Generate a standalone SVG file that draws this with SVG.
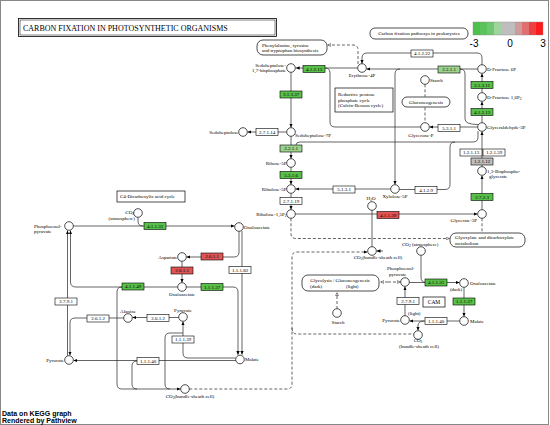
<svg xmlns="http://www.w3.org/2000/svg" width="550" height="425" viewBox="0 0 550 425">
<defs>
<marker id="ar" viewBox="0 0 6 6" refX="6" refY="3" markerUnits="userSpaceOnUse" markerWidth="3.8" markerHeight="3.8" orient="auto"><path d="M0,0.3 L6,3 L0,5.7z" fill="#000"/></marker>
<marker id="ao" viewBox="0 0 6 6" refX="6" refY="3" markerUnits="userSpaceOnUse" markerWidth="3.6" markerHeight="3.6" orient="auto"><path d="M0.6,0.6 L5.4,3 L0.6,5.4z" fill="#fff" stroke="#000" stroke-width="0.7"/></marker>
</defs>
<style>
.cp{fill:#fff;stroke:#000;stroke-width:0.7}
.ez{stroke:#000;stroke-width:0.6}
.w{fill:#fff}
.g{fill:#58bf48}
.lg{fill:#9ad38e}
.r{fill:#e05454}
.gy{fill:#bebebe}
.t{font-family:"Liberation Serif","Times New Roman",serif;font-size:5px;fill:#000}
.m{text-anchor:middle}
.e{text-anchor:end}
.ln{fill:none;stroke:#222;stroke-width:0.7}
.ds{stroke-dasharray:3 2}
.mp{fill:#fff;stroke:#000;stroke-width:0.7}
.s{font-family:"Liberation Sans",Arial,sans-serif}
</style>
<rect width="550" height="425" fill="#fff"/>
<rect x="0.5" y="0.5" width="548" height="424" fill="none" stroke="#888" stroke-width="1"/>

<g id="title">
<rect x="18.5" y="18.5" width="258" height="18" fill="#fff" stroke="#000" stroke-width="0.8"/>
<rect x="20" y="20" width="255" height="15" fill="none" stroke="#000" stroke-width="0.5"/>
<text class="t" x="23" y="30.5" style="font-size:8px">CARBON FIXATION IN PHOTOSYNTHETIC ORGANISMS</text>
</g>

<g id="legend">
<rect x="473" y="22" width="7" height="13" fill="#4cc24c"/>
<rect x="480" y="22" width="7" height="13" fill="#5cc25c"/>
<rect x="487" y="22" width="7" height="13" fill="#6fc86f"/>
<rect x="494" y="22" width="7" height="13" fill="#9fd49f"/>
<rect x="501" y="22" width="7" height="13" fill="#bebebe"/>
<rect x="508" y="22" width="7" height="13" fill="#bebebe"/>
<rect x="515" y="22" width="7" height="13" fill="#d09a9a"/>
<rect x="522" y="22" width="7" height="13" fill="#e07070"/>
<rect x="529" y="22" width="7" height="13" fill="#ee4040"/>
<rect x="536" y="22" width="7" height="13" fill="#ff1a1a"/>
<rect x="473" y="22" width="70" height="13" fill="none" stroke="#888" stroke-width="0.4"/>
<text class="s m" x="474" y="47" font-size="10">-3</text>
<text class="s m" x="510" y="47" font-size="10">0</text>
<text class="s m" x="543" y="47" font-size="10">3</text>
</g>

<g id="footer" class="s" font-size="7" font-weight="bold">
<text x="2" y="416">Data on KEGG graph</text>
<text x="2" y="423">Rendered by Pathview</text>
</g>

<g id="connectors">
<path class="ln" d="M357.7,68 H295.8" marker-end="url(#ar)"/>
<path class="ln" d="M420.7,127 H335 Q330,127 330,122 V73 Q330,68 325,68"/>
<path class="ln" d="M291,72.3 V127.5" marker-end="url(#ar)"/>
<path class="ln" d="M286.7,132 H247.6" marker-end="url(#ar)"/>
<path class="ln" d="M291,136.3 V158.5" marker-end="url(#ar)"/>
<path class="ln" d="M478,131 V137 Q478,142 473,142 H300 Q296,142 296,145"/>
<path class="ln" d="M400,69 Q395,69 395,74 V184.5" marker-end="url(#ar)"/>
<path class="ln" d="M291,167.3 V184.5" marker-end="url(#ar)"/>
<path class="ln" d="M390.7,189 H295.6" marker-end="url(#ar)"/>
<path class="ln" d="M291,193.3 V209.5" marker-end="url(#ar)"/>
<path class="ln" d="M295.3,214 H477.5" marker-end="url(#ar)"/>
<path class="ln" d="M372,210.3 V246.7"/>
<path class="ln" d="M482,209.7 V175.6" marker-end="url(#ar)"/>
<path class="ln" d="M482,166.7 V131.6" marker-end="url(#ar)"/>
<path class="ln" d="M482,92.7 V73.6" marker-end="url(#ar)"/>
<path class="ln" d="M482,122.7 V101.6" marker-end="url(#ar)"/>
<path class="ln" d="M477.7,127 H429.6" marker-end="url(#ar)"/>
<path class="ln" d="M477.7,69 H366.6" marker-end="url(#ar)"/>
<path class="ln" d="M478,124.5 Q465,124.5 465,119 V74 Q465,69 460,69"/>
<path class="ln" d="M482,64.7 V58 Q482,53 477,53 H367 Q362,53 362,58 V63.5" marker-end="url(#ar)"/>
<path class="ln ds" d="M358,64 V50 Q358,45 353,45 H327.5" marker-end="url(#ao)"/>
<path class="ln ds" d="M425,84.3 V96.5"/>
<path class="ln ds" d="M425,107.5 V122.7"/>
<path class="ln" d="M399.3,189.5 H445 Q450,189.5 450,184.5 V147 Q450,142 455,142"/>
<path class="ln ds" d="M291,218.3 V233.5 Q291,238.5 296,238.5 H449.5" marker-end="url(#ao)"/>
<path class="ln ds" d="M482,218.3 V233"/>
<path class="ln ds" d="M189.3,389 H287 Q292,389 292,384 V257 Q292,252 297,252 H367.3" marker-end="url(#ar)"/>
<path class="ln" d="M383,251 H376.7" marker-end="url(#ar)"/>
<path class="ln ds" d="M292,328 Q292,334 297,334 H413.7"/>
<path class="ln ds" d="M388,282 H380.5" marker-end="url(#ao)"/>
<path class="ln ds" d="M388,282 H400.6" marker-end="url(#ao)"/>
<path class="ln ds" d="M337,296 V292.3" marker-end="url(#ao)"/>
<path class="ln ds" d="M337,296 V308.7"/>
<path class="ln" d="M421,255.3 V277 Q421,282.5 426,282.5"/>
<path class="ln" d="M409.3,282.5 H459.5" marker-end="url(#ar)"/>
<path class="ln" d="M464,287.3 V316.5" marker-end="url(#ar)"/>
<path class="ln" d="M459.7,321 H409.6" marker-end="url(#ar)"/>
<path class="ln" d="M424,321 Q418,321 418,326 V330.5" marker-end="url(#ar)"/>
<path class="ln" d="M405,315.7 V286.6" marker-end="url(#ar)"/>
<path class="ln" d="M138,217.3 V221 Q138,226 143,226"/>
<path class="ln" d="M73.3,226 H234.5" marker-end="url(#ar)"/>
<path class="ln" d="M239,231.3 V252 Q239,257 234,257 H186.6" marker-end="url(#ar)"/>
<path class="ln" d="M242,231 V354.6" marker-end="url(#ar)"/>
<path class="ln" d="M182,261.3 V282.5" marker-end="url(#ar)"/>
<path class="ln" d="M186.3,287 H233 Q238,287 238,292 V354.8" marker-end="url(#ar)"/>
<path class="ln" d="M177.7,287 H76 Q70.5,287 70.5,282 V230.6" marker-end="url(#ar)"/>
<path class="ln" d="M67.5,355.7 V230.6" marker-end="url(#ar)"/>
<path class="ln" d="M178.7,317.5 H132.6" marker-end="url(#ar)"/>
<path class="ln" d="M123.7,318 H75 Q70,318 70,323 V355.3" marker-end="url(#ar)"/>
<path class="ln" d="M235.7,358 H188 Q183,358 183,353 V321.6" marker-end="url(#ar)"/>
<path class="ln" d="M183,333 H170 Q165,333 165,338 V384 Q165,389 170,389"/>
<path class="ln" d="M235.7,360.5 H73.6" marker-end="url(#ar)"/>
<path class="ln" d="M137,361 Q132,361 132,366 V384 Q132,389 137,389"/>
<path class="ln" d="M122,287 Q117,287 117,292 V384 Q117,389 122,389 H180.6" marker-end="url(#ar)"/>
</g>

<g id="map_phe"><rect class="mp" x="257" y="40" width="70" height="15" rx="6"/><text class="t" x="262" y="46.5">Phenylalanine, tyrosine</text><text class="t" x="262" y="52">and tryptophan biosynthesis</text></g>
<g id="map_calvin"><rect class="mp" x="335" y="88" width="58" height="24"/><text class="t" x="338" y="96">Reductive pentose</text><text class="t" x="338" y="101.5">phosphate cycle</text><text class="t" x="338" y="107">(Calvin-Benson cycle)</text></g>
<g id="map_prok"><rect class="mp" x="370" y="28" width="98" height="11" rx="5"/><text class="t m" x="419" y="35.3">Carbon fixation pathways in prokaryotes</text></g>
<g id="map_gluco"><rect class="mp" x="402" y="97" width="48" height="10" rx="5"/><text class="t m" x="426" y="103.8">Gluconeogenesis</text></g>
<g id="map_glyox"><rect class="mp" x="450" y="233" width="75" height="14" rx="6"/><text class="t" x="455" y="239">Glyoxylate and dicarboxylate</text><text class="t" x="455" y="244.5">metabolism</text></g>
<g id="map_glyco"><rect class="mp" x="302" y="275" width="77" height="16" rx="6"/><text class="t m" x="340" y="281.8">Glycolysis / Gluconeogenesis</text><text class="t" x="310" y="288">(dark)</text><text class="t" x="346" y="288">(light)</text></g>
<g id="map_c4"><rect class="mp" x="117" y="191" width="68" height="11"/><text class="t" x="120" y="198.3">C4-Dicarboxylic acid cycle</text></g>
<g id="map_cam"><rect class="mp" x="423" y="297" width="22" height="10"/><text class="t m" x="434" y="303.8" style="font-size:5.5px">CAM</text></g>

<g id="cpd_s17bp"><circle class="cp" cx="291" cy="68" r="4.3"/><text class="t e" x="286" y="66.5">Sedoheptulose-</text><text class="t e" x="286" y="72">1,7-bisphosphate</text></g>
<g id="cpd_e4p"><circle class="cp" cx="362" cy="68" r="4.3"/><text class="t m" x="362" y="77">Erythrose-4P</text></g>
<g id="cpd_f6p"><circle class="cp" cx="482" cy="69" r="4.3"/><text class="t" x="487" y="71">D-Fructose 6P</text></g>
<g id="cpd_starch1"><circle class="cp" cx="425" cy="80" r="4.3"/><text class="t" x="430" y="82">Starch</text></g>
<g id="cpd_f16p"><circle class="cp" cx="482" cy="97" r="4.3"/><text class="t" x="487" y="99">D-Fructose 1,6P<tspan font-size="3.5" dy="1">2</tspan></text></g>
<g id="cpd_gap"><circle class="cp" cx="482" cy="127" r="4.3"/><text class="t" x="487" y="129">Glyceraldehyde-3P</text></g>
<g id="cpd_gp"><circle class="cp" cx="425" cy="127" r="4.3"/><text class="t m" x="421" y="137">Glycerone-P</text></g>
<g id="cpd_sedo"><circle class="cp" cx="243" cy="132" r="4.3"/><text class="t e" x="238.5" y="133.7">Sedoheptulose</text></g>
<g id="cpd_s7p"><circle class="cp" cx="291" cy="132" r="4.3"/><text class="t" x="295" y="137">Sedoheptulose-7P</text></g>
<g id="cpd_r5p"><circle class="cp" cx="291" cy="163" r="4.3"/><text class="t e" x="286.5" y="165">Ribose-5P</text></g>
<g id="cpd_ru5p"><circle class="cp" cx="291" cy="189" r="4.3"/><text class="t e" x="286.5" y="190.7">Ribulose-5P</text></g>
<g id="cpd_xu5p"><circle class="cp" cx="395" cy="189" r="4.3"/><text class="t m" x="395" y="198">Xylulose-5P</text></g>
<g id="cpd_rubp"><circle class="cp" cx="291" cy="214" r="4.3"/><text class="t e" x="286.5" y="215.7">Ribulose-1,5P<tspan font-size="3.5" dy="1">2</tspan></text></g>
<g id="cpd_h2o"><circle class="cp" cx="372" cy="206" r="4.3"/><text class="t m" x="371" y="200">H<tspan font-size="3.5" dy="1">2</tspan><tspan dy="-1">O</tspan></text></g>
<g id="cpd_bpg"><circle class="cp" cx="482" cy="171" r="4.3"/><text class="t" x="487" y="172.5">1,3-Bisphospho-</text><text class="t" x="489" y="178">glycerate</text></g>
<g id="cpd_g3p"><circle class="cp" cx="482" cy="214" r="4.3"/><text class="t e" x="477" y="222">Glycerate-3P</text></g>
<g id="cpd_co2u"><circle class="cp" cx="372" cy="251" r="4.3"/><text class="t m" x="378" y="259">CO<tspan font-size="3.5" dy="1">2</tspan><tspan dy="-1">(bundle-sheath cell)</tspan></text></g>
<g id="cpd_co2atm1"><circle class="cp" cx="138" cy="213" r="4.3"/><text class="t e" x="134" y="213.5">CO<tspan font-size="3.5" dy="1">2</tspan></text><text class="t e" x="135" y="220">(atmosphere)</text></g>
<g id="cpd_pep1"><circle class="cp" cx="69" cy="226" r="4.3"/><text class="t" x="34" y="227.5">Phosphoenol-</text><text class="t" x="34" y="233">pyruvate</text></g>
<g id="cpd_oaa1"><circle class="cp" cx="239" cy="227" r="4.3"/><text class="t" x="244" y="229">Oxaloacetate</text></g>
<g id="cpd_asp"><circle class="cp" cx="182" cy="257" r="4.3"/><text class="t e" x="177.5" y="258.7">Aspartate</text></g>
<g id="cpd_oaa2"><circle class="cp" cx="182" cy="287" r="4.3"/><text class="t m" x="182" y="295.5">Oxaloacetate</text></g>
<g id="cpd_ala"><circle class="cp" cx="128" cy="318" r="4.3"/><text class="t m" x="128" y="313">Alanine</text></g>
<g id="cpd_pyr2"><circle class="cp" cx="183" cy="317" r="4.3"/><text class="t m" x="183" y="312">Pyruvate</text></g>
<g id="cpd_pyr1"><circle class="cp" cx="69" cy="360" r="4.3"/><text class="t e" x="64" y="361.7">Pyruvate</text></g>
<g id="cpd_mal1"><circle class="cp" cx="240" cy="359.5" r="4.3"/><text class="t" x="245" y="361.2">Malate</text></g>
<g id="cpd_co2b"><circle class="cp" cx="185" cy="389" r="4.3"/><text class="t m" x="190" y="397.5">CO<tspan font-size="3.5" dy="1">2</tspan><tspan dy="-1">(bundle-sheath cell)</tspan></text></g>
<g id="cpd_co2atm2"><circle class="cp" cx="421" cy="251" r="4.3"/><text class="t" x="402" y="246">CO<tspan font-size="3.5" dy="1">2</tspan><tspan dy="-1"> (atmosphere)</tspan></text></g>
<g id="cpd_pep3"><circle class="cp" cx="405" cy="282" r="4.3"/><text class="t" x="387" y="270">Phosphoenol-</text><text class="t" x="389" y="275.5">pyruvate</text></g>
<g id="cpd_oaa3"><circle class="cp" cx="464" cy="283" r="4.3"/><text class="t" x="470" y="285">Oxaloacetate</text><text class="t m" x="456" y="291">(dark)</text></g>
<g id="cpd_starch2"><circle class="cp" cx="337" cy="313" r="4.3"/><text class="t m" x="338" y="324">Starch</text></g>
<g id="cpd_pyr3"><circle class="cp" cx="405" cy="320" r="4.3"/><text class="t e" x="400" y="321.7">Pyruvate</text><text class="t" x="408" y="314.5">(light)</text></g>
<g id="cpd_mal3"><circle class="cp" cx="464" cy="321" r="4.3"/><text class="t" x="470" y="323">Malate</text></g>
<g id="cpd_co2b3"><circle class="cp" cx="418" cy="335" r="4.3"/><text class="t m" x="418" y="342">CO<tspan font-size="3.5" dy="1">2</tspan></text><text class="t m" x="419" y="347.5">(bundle-sheath cell)</text></g>

<g id="ec_4.1.2.13a"><rect class="ez g" x="303" y="65.5" width="22" height="7"/><text class="t m" x="314" y="70.7">4.1.2.13</text></g>
<g id="ec_3.1.3.37"><rect class="ez g" x="280" y="91" width="22" height="7"/><text class="t m" x="291" y="96.2">3.1.3.37</text></g>
<g id="ec_2.7.1.14"><rect class="ez w" x="256" y="128.5" width="22" height="7"/><text class="t m" x="267" y="133.7">2.7.1.14</text></g>
<g id="ec_2.2.1.1a"><rect class="ez lg" x="280" y="145" width="22" height="7"/><text class="t m" x="291" y="150.2">2.2.1.1</text></g>
<g id="ec_5.3.1.6"><rect class="ez g" x="280" y="171.5" width="22" height="7"/><text class="t m" x="291" y="176.7">5.3.1.6</text></g>
<g id="ec_5.1.3.1"><rect class="ez w" x="333" y="186" width="22" height="7"/><text class="t m" x="344" y="191.2">5.1.3.1</text></g>
<g id="ec_2.7.1.19"><rect class="ez w" x="280" y="197.5" width="22" height="7"/><text class="t m" x="291" y="202.7">2.7.1.19</text></g>
<g id="ec_4.1.2.22"><rect class="ez w" x="411" y="50" width="22" height="7"/><text class="t m" x="422" y="55.2">4.1.2.22</text></g>
<g id="ec_2.2.1.1b"><rect class="ez lg" x="438" y="66" width="22" height="7"/><text class="t m" x="449" y="71.2">2.2.1.1</text></g>
<g id="ec_3.1.3.11"><rect class="ez g" x="471" y="81.5" width="22" height="7"/><text class="t m" x="482" y="86.7">3.1.3.11</text></g>
<g id="ec_4.1.2.13b"><rect class="ez g" x="471" y="108.5" width="22" height="7"/><text class="t m" x="482" y="113.7">4.1.2.13</text></g>
<g id="ec_5.3.1.1"><rect class="ez w" x="438" y="124.5" width="22" height="7"/><text class="t m" x="449" y="129.7">5.3.1.1</text></g>
<g id="ec_1.2.1.13"><rect class="ez w" x="460" y="149" width="22" height="7"/><text class="t m" x="471" y="154.2">1.2.1.13</text></g>
<g id="ec_1.2.1.59"><rect class="ez w" x="483" y="149" width="22" height="7"/><text class="t m" x="494" y="154.2">1.2.1.59</text></g>
<g id="ec_1.2.1.12"><rect class="ez gy" x="471" y="158" width="22" height="7"/><text class="t m" x="482" y="163.2">1.2.1.12</text></g>
<g id="ec_2.7.2.3"><rect class="ez g" x="471" y="193.5" width="22" height="7"/><text class="t m" x="482" y="198.7">2.7.2.3</text></g>
<g id="ec_4.1.2.9"><rect class="ez w" x="415" y="186.5" width="22" height="7"/><text class="t m" x="426" y="191.7">4.1.2.9</text></g>
<g id="ec_4.1.1.39"><rect class="ez r" x="377" y="211.5" width="22" height="7"/><text class="t m" x="388" y="216.7">4.1.1.39</text></g>
<g id="ec_4.1.1.31a"><rect class="ez g" x="144" y="222.5" width="22" height="7"/><text class="t m" x="155" y="227.7">4.1.1.31</text></g>
<g id="ec_2.6.1.1a"><rect class="ez r" x="201" y="253" width="22" height="7"/><text class="t m" x="212" y="258.2">2.6.1.1</text></g>
<g id="ec_2.6.1.1b"><rect class="ez r" x="171" y="267" width="22" height="7"/><text class="t m" x="182" y="272.2">2.6.1.1</text></g>
<g id="ec_1.1.1.82"><rect class="ez w" x="229" y="266.5" width="22" height="7"/><text class="t m" x="240" y="271.7">1.1.1.82</text></g>
<g id="ec_4.1.1.49"><rect class="ez g" x="122" y="283" width="22" height="7"/><text class="t m" x="133" y="288.2">4.1.1.49</text></g>
<g id="ec_1.1.1.37a"><rect class="ez g" x="201" y="283.5" width="22" height="7"/><text class="t m" x="212" y="288.7">1.1.1.37</text></g>
<g id="ec_2.7.9.1a"><rect class="ez w" x="55" y="298" width="22" height="7"/><text class="t m" x="66" y="303.2">2.7.9.1</text></g>
<g id="ec_2.6.1.2a"><rect class="ez w" x="87" y="315" width="22" height="7"/><text class="t m" x="98" y="320.2">2.6.1.2</text></g>
<g id="ec_2.6.1.2b"><rect class="ez w" x="147" y="314.5" width="22" height="7"/><text class="t m" x="158" y="319.7">2.6.1.2</text></g>
<g id="ec_1.1.1.39"><rect class="ez w" x="172" y="336" width="22" height="7"/><text class="t m" x="183" y="341.2">1.1.1.39</text></g>
<g id="ec_1.1.1.40a"><rect class="ez w" x="137" y="357.5" width="22" height="7"/><text class="t m" x="148" y="362.7">1.1.1.40</text></g>
<g id="ec_4.1.1.31b"><rect class="ez g" x="425" y="279" width="22" height="7"/><text class="t m" x="436" y="284.2">4.1.1.31</text></g>
<g id="ec_1.1.1.37b"><rect class="ez g" x="453" y="298" width="22" height="7"/><text class="t m" x="464" y="303.2">1.1.1.37</text></g>
<g id="ec_2.7.9.1b"><rect class="ez w" x="397" y="297.5" width="22" height="7"/><text class="t m" x="408" y="302.7">2.7.9.1</text></g>
<g id="ec_1.1.1.40b"><rect class="ez w" x="425" y="317.5" width="22" height="7"/><text class="t m" x="436" y="322.7">1.1.1.40</text></g>
</svg>
